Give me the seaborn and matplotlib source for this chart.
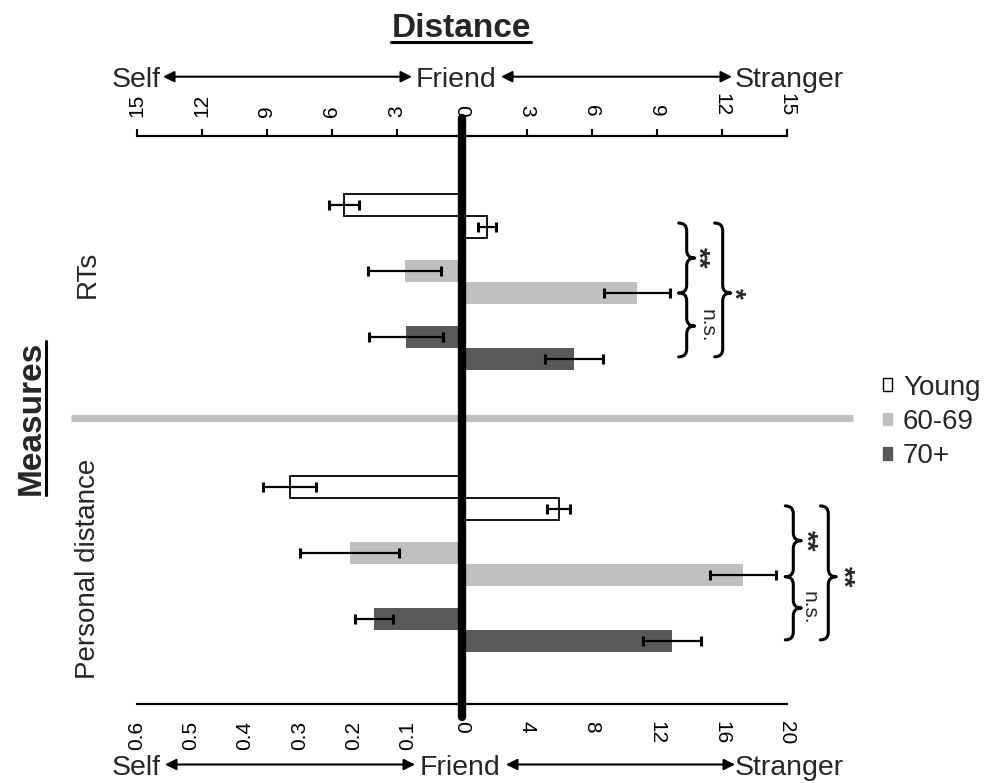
import numpy as np
import pandas as pd
import matplotlib
matplotlib.use('Agg')
import matplotlib.pyplot as plt
import seaborn as sns
from matplotlib.patches import Patch, PathPatch, FancyArrowPatch
from matplotlib.path import Path
from matplotlib.lines import Line2D
import matplotlib.transforms as mtransforms

# ---------------- data ----------------
groups = ['Young', '60-69', '70+']
rt_self = [5.43, 2.64, 2.58]
rt_self_err = [0.67, 1.67, 1.72]
rt_stranger = [1.15, 8.08, 5.18]
rt_stranger_err = [0.42, 1.52, 1.32]
pd_self = [0.317, 0.207, 0.162]
pd_self_err = [0.049, 0.092, 0.035]
pd_stranger = [5.95, 17.3, 12.95]
pd_stranger_err = [0.73, 2.05, 1.79]

top_ticks = [-15, -12, -9, -6, -3, 0, 3, 6, 9, 12, 15]
top_labels = ['15', '12', '9', '6', '3', '0', '3', '6', '9', '12', '15']
bot_ticks = [-0.6, -0.5, -0.4, -0.3, -0.2, -0.1, 0, 4, 8, 12, 16, 20]
bot_labels = ['0.6', '0.5', '0.4', '0.3', '0.2', '0.1', '0', '4', '8', '12', '16', '20']

slot_order = ['Young|Self', 'Young|Stranger', 'gap1',
              '60-69|Self', '60-69|Stranger', 'gap2',
              '70+|Self', '70+|Stranger']

fills = {'Young': '#ffffff', '60-69': '#bfbfbf', '70+': '#595959'}
edges = {'Young': '#000000', '60-69': '#bfbfbf', '70+': '#595959'}
lws = {'Young': 1.3, '60-69': 0, '70+': 0}


def make_df(self_v, self_e, str_v, str_e):
    rows = []
    for g, sv, se, tv, te in zip(groups, self_v, self_e, str_v, str_e):
        rows.append({'slot': f'{g}|Self', 'group': g, 'value': -sv, 'err': se})
        rows.append({'slot': f'{g}|Stranger', 'group': g, 'value': tv, 'err': te})
    return pd.DataFrame(rows)


df_rt = make_df(rt_self, rt_self_err, rt_stranger, rt_stranger_err)
df_pd = make_df(pd_self, pd_self_err, pd_stranger, pd_stranger_err)

# ---------------- style ----------------
sns.set_style('white')
plt.rcParams['font.family'] = ['Liberation Sans', 'DejaVu Sans']

W, H = 989, 783
fig = plt.figure(figsize=(W / 100, H / 100), dpi=100)

x0, x1 = 136.5, 787.0
def fx(px):
    return px / W
def fy(py):
    return 1 - py / H

ax_top = fig.add_axes([fx(x0), fy(418), fx(x1 - x0), (418 - 136) / H])
ax_bot = fig.add_axes([fx(x0), fy(704), fx(x1 - x0), (704 - 418) / H])
for a in (ax_top, ax_bot):
    a.patch.set_visible(False)


def draw_half(ax, df):
    for g in groups:
        sub = df[df.group == g]
        sns.barplot(data=sub, x='value', y='slot', order=slot_order, orient='h',
                    color=fills[g], edgecolor=edges[g], linewidth=lws[g],
                    width=1.0, saturation=1, errorbar=None, ax=ax)
    pos = [slot_order.index(s) for s in df.slot]
    ax.errorbar(df.value, pos, xerr=df.err, fmt='none', ecolor='black',
                elinewidth=1.6, capsize=3.5, capthick=2.2, zorder=5)
    ax.set_ylabel('')
    ax.set_xlabel('')
    ax.set_yticks([])


draw_half(ax_top, df_rt)
draw_half(ax_bot, df_pd)

# top axis (RTs)
ax_top.set_xlim(-15, 15)
ax_top.set_ylim(9.68, -3.136)
ax_top.xaxis.tick_top()
ax_top.set_xticks(top_ticks)
ax_top.set_xticklabels(top_labels, fontsize=15)
for t, lab in zip(top_ticks, ax_top.get_xticklabels()):
    lab.set_rotation(90 if t < 0 else -90)
ax_top.tick_params(axis='x', direction='out', length=5, width=1.5, pad=9, colors='black')
for s in ['left', 'right', 'bottom']:
    ax_top.spines[s].set_visible(False)
ax_top.spines['top'].set_linewidth(1.6)
ax_top.spines['top'].set_color('black')

# bottom axis (Personal distance), piecewise linear scale
def fwd(x):
    x = np.asarray(x, dtype=float)
    return np.where(x < 0, x / 0.6, x / 20.0)

def inv(y):
    y = np.asarray(y, dtype=float)
    return np.where(y < 0, y * 0.6, y * 20.0)

ax_bot.set_xscale('function', functions=(fwd, inv))
ax_bot.set_xlim(-0.6, 20)
ax_bot.set_ylim(9.864, -3.136)
ax_bot.set_xticks(bot_ticks)
ax_bot.set_xticklabels(bot_labels, fontsize=15)
ax_bot.xaxis.set_minor_locator(matplotlib.ticker.NullLocator())
for t, lab in zip(bot_ticks, ax_bot.get_xticklabels()):
    lab.set_rotation(90 if t < 0 else -90)
ax_bot.tick_params(axis='x', which='major', direction='out', length=5, width=1.5, pad=7, colors='black')
for s in ['left', 'right', 'top']:
    ax_bot.spines[s].set_visible(False)
ax_bot.spines['bottom'].set_linewidth(1.6)
ax_bot.spines['bottom'].set_color('black')

# gray separator
ax_top.plot([(71 - x0) / (x1 - x0), (853 - x0) / (x1 - x0)], [0, 0], transform=ax_top.transAxes,
            color='#c0c0c0', lw=5.2, solid_capstyle='butt', clip_on=False, zorder=1)

# central thick line
ax_top.axvline(0, ymin=0, ymax=1 + 18 / 282, color='black', lw=6, zorder=10,
               clip_on=False, solid_capstyle='round')
ax_bot.axvline(0, ymin=-13 / 286, ymax=1, color='black', lw=6, zorder=10,
               clip_on=False, solid_capstyle='round')

# significance braces
def brace(ax, px, y0, y1, ym):
    tr = mtransforms.blended_transform_factory(ax.transAxes, ax.transData)
    xf = (px - x0) / (x1 - x0)
    h = 8 / (x1 - x0)
    d = 0.35
    verts = [(xf - h, y0), (xf, y0), (xf, y0 + d), (xf, ym - d), (xf, ym), (xf + h, ym),
             (xf, ym), (xf, ym + d), (xf, y1 - d), (xf, y1), (xf - h, y1)]
    codes = [Path.MOVETO, Path.CURVE3, Path.CURVE3, Path.LINETO, Path.CURVE3, Path.CURVE3,
             Path.CURVE3, Path.CURVE3, Path.LINETO, Path.CURVE3, Path.CURVE3]
    ax.add_patch(PathPatch(Path(verts, codes), fill=False, lw=2.2, edgecolor='black',
                           transform=tr, clip_on=False, capstyle='round', joinstyle='round'))


def sig(ax, px, y, label, fs, weight):
    tr = mtransforms.blended_transform_factory(ax.transAxes, ax.transData)
    ax.text((px - x0) / (x1 - x0), y, label, transform=tr, rotation=-90, ha='center',
            va='center', fontsize=fs, fontweight=weight, clip_on=False)

# RTs braces
brace(ax_top, 686.7, 0.82, 4.0, 2.41)
brace(ax_top, 686.7, 4.0, 6.9, 5.5)
brace(ax_top, 722.7, 0.82, 6.9, 4.0)
sig(ax_top, 697, 2.41, '**', 20, 'bold')
sig(ax_top, 707, 5.5, 'n.s.', 15, 'normal')
sig(ax_top, 733, 4.0, '*', 20, 'bold')

# Personal distance braces
brace(ax_bot, 793.3, 0.86, 4.08, 2.44)
brace(ax_bot, 793.3, 4.08, 6.95, 5.5)
brace(ax_bot, 828.3, 0.86, 6.95, 4.08)
sig(ax_bot, 805, 2.44, '**', 20, 'bold')
sig(ax_bot, 809, 5.5, 'n.s.', 15, 'normal')
sig(ax_bot, 842, 4.08, '**', 20, 'bold')

# titles and labels
t_dist = fig.text(fx(461), fy(37), 'Distance', ha='center', va='baseline',
                  fontsize=24, fontweight='bold')
t_meas = fig.text(fx(31), fy(418), 'Measures', ha='center', va='center', rotation=90,
                  fontsize=24, fontweight='bold')
fig.text(fx(88), fy(274), 'RTs', ha='center', va='center', rotation=90, fontsize=20)
fig.text(fx(88), fy(569), 'Personal distance', ha='center', va='center', rotation=90, fontsize=20)

# Self / Friend / Stranger rows
def scale_row(base_y, arrow_y, a1, a2, fr_x):
    fig.text(fx(161), fy(base_y), 'Self', ha='right', va='baseline', fontsize=20.5)
    fig.text(fx(fr_x), fy(base_y), 'Friend', ha='center', va='baseline', fontsize=20.5)
    fig.text(fx(735), fy(base_y), 'Stranger', ha='left', va='baseline', fontsize=20.5)
    for (p, q) in (a1, a2):
        fig.add_artist(FancyArrowPatch((fx(p), fy(arrow_y)), (fx(q), fy(arrow_y)),
                                       transform=fig.transFigure,
                                       arrowstyle='<|-|>,head_length=0.6,head_width=0.3',
                                       mutation_scale=11, lw=1.5, color='black',
                                       shrinkA=0, shrinkB=0))

scale_row(87, 76.7, (163, 412), (501, 732), 456)
scale_row(775, 764.5, (165, 415), (506, 735), 460)

# legend
handles = [Patch(facecolor=fills[g], edgecolor='black' if g == 'Young' else fills[g],
                 linewidth=1.0) for g in groups]
fig.legend(handles, groups, loc='center left', bbox_to_anchor=(fx(883), fy(422)),
           frameon=False, fontsize=20, handlelength=0.32, handleheight=0.32,
           handletextpad=0.4, labelspacing=0.3, borderpad=0, borderaxespad=0)

# underlines
fig.canvas.draw()
r = fig.canvas.get_renderer()
bb = t_dist.get_window_extent(r)
fig.add_artist(Line2D([bb.x0 / W, bb.x1 / W], [fy(42), fy(42)], color='black', lw=2.2,
                      transform=fig.transFigure))
bb = t_meas.get_window_extent(r)
fig.add_artist(Line2D([fx(46), fx(46)], [bb.y0 / H, bb.y1 / H], color='black', lw=2.2,
                      transform=fig.transFigure))

fig.savefig('out.png', dpi=100)
